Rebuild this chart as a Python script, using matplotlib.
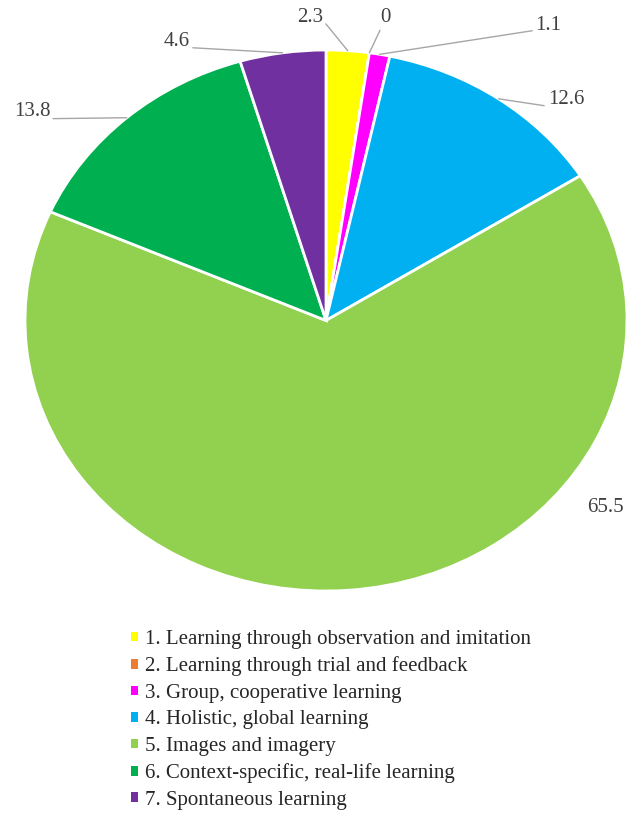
import numpy as np
import matplotlib
matplotlib.use("Agg")
import matplotlib.pyplot as plt
from matplotlib.patches import Patch

categories = [
    "1. Learning through observation and imitation",
    "2. Learning through trial and feedback",
    "3. Group, cooperative learning",
    "4. Holistic, global learning",
    "5. Images and imagery",
    "6. Context-specific, real-life learning",
    "7. Spontaneous learning",
]
values = [2.3, 0, 1.1, 12.6, 65.5, 13.8, 4.6]
colors = ["#FFFF00", "#ED7D31", "#FF00FF", "#00B0F0", "#92D050", "#00B050", "#7030A0"]

# label positions (figure pixels from top-left) and where the leader leaves the text
label_pos = [(310, 17), (385, 18), (548, 25), (566, 100), (605, 507), (32, 112), (177, 42)]
label_rel = [(1.1, 0.15), (0.1, -0.05), (-0.1, 0.2), (-0.1, 0.2), None, (1.05, 0.15), (1.05, 0.2)]

W, H = 631, 816
plt.rcParams["font.family"] = ["Liberation Serif", "DejaVu Serif"]

fig = plt.figure(figsize=(W / 100, H / 100), dpi=100)
# pie is slightly stretched horizontally in the original
ax = fig.add_axes([25 / W, (H - 591) / H, 602 / W, 541 / H])
wedges, _ = ax.pie(values, colors=colors, startangle=90, counterclock=False,
                   wedgeprops=dict(edgecolor="white", linewidth=2))
ax.set_aspect("auto")
ax.set_xlim(-1, 1)
ax.set_ylim(-1, 1)

total = sum(values)
cum = 0.0
for v, (tx, ty), rel in zip(values, label_pos, label_rel):
    mid = 90 - 360 * (cum + v / 2) / total
    cum += v
    xy = (np.cos(np.radians(mid)), np.sin(np.radians(mid)))
    if rel is None:
        ax.annotate(f"{v:g}", xy=xy, xytext=(tx, H - ty), textcoords="figure pixels",
                    ha="center", va="center", fontsize=15, color="#404040")
    else:
        ax.annotate(f"{v:g}", xy=xy, xytext=(tx, H - ty), textcoords="figure pixels",
                    ha="center", va="center", fontsize=15, color="#404040",
                    arrowprops=dict(arrowstyle="-", color="#A6A6A6", lw=1,
                                    shrinkA=0, shrinkB=0, relpos=rel))

handles = [Patch(facecolor=c, edgecolor="none") for c in colors]
fig.legend(handles, categories, loc="upper left", bbox_to_anchor=(131 / W, (H - 630) / H),
           frameon=False, fontsize=15, labelcolor="#262626",
           handlelength=0.35, handleheight=0.35, handletextpad=0.3,
           labelspacing=0.36, borderpad=0, borderaxespad=0)

fig.savefig("out.png", dpi=100)
